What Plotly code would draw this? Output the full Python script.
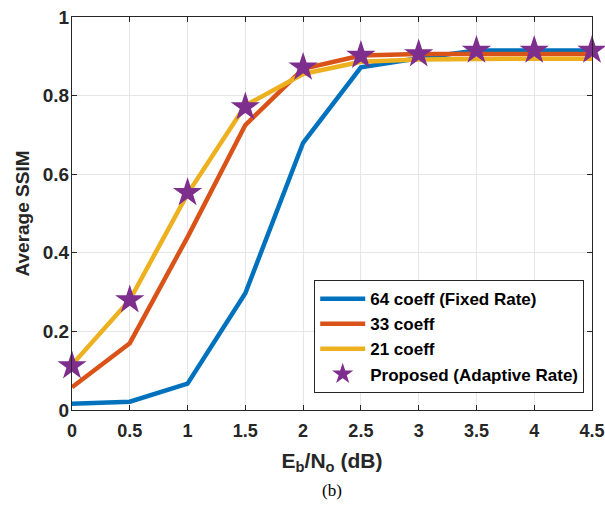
import plotly.graph_objects as go

x = [0, 0.5, 1, 1.5, 2, 2.5, 3, 3.5, 4, 4.5]
coeff64 = [0.016, 0.021, 0.067, 0.297, 0.680, 0.872, 0.895, 0.915, 0.915, 0.915]
coeff33 = [0.058, 0.170, 0.440, 0.725, 0.868, 0.902, 0.906, 0.906, 0.906, 0.906]
coeff21 = [0.115, 0.280, 0.550, 0.775, 0.855, 0.886, 0.892, 0.894, 0.894, 0.894]
proposed = [0.112, 0.280, 0.553, 0.771, 0.872, 0.902, 0.906, 0.915, 0.915, 0.915]

xticks = [0, 0.5, 1, 1.5, 2, 2.5, 3, 3.5, 4, 4.5]
xticklabels = ["0", "0.5", "1", "1.5", "2", "2.5", "3", "3.5", "4", "4.5"]
yticks = [0, 0.2, 0.4, 0.6, 0.8, 1]
yticklabels = ["0", "0.2", "0.4", "0.6", "0.8", "1"]

fig = go.Figure()
fig.add_trace(go.Scatter(x=x, y=coeff64, mode="lines", name="64 coeff (Fixed Rate)",
                         line=dict(color="#0072BD", width=4.5)))
fig.add_trace(go.Scatter(x=x, y=coeff33, mode="lines", name="33 coeff",
                         line=dict(color="#D95319", width=4.5)))
fig.add_trace(go.Scatter(x=x, y=coeff21, mode="lines", name="21 coeff",
                         line=dict(color="#EDB120", width=4.5)))
fig.add_trace(go.Scatter(x=x, y=proposed, mode="markers", name="Proposed (Adaptive Rate)",
                         marker=dict(symbol="star", size=22, color="#7E2F8E",
                                     line=dict(width=0)),
                         cliponaxis=False))

fig.update_layout(
    width=605, height=506,
    margin=dict(l=72, r=13, t=17, b=96, autoexpand=False),
    paper_bgcolor="white", plot_bgcolor="white",
    font=dict(family="Liberation Sans, Arial", color="#262626"),
    showlegend=True,
    legend=dict(x=0.985, y=0.043, xanchor="right", yanchor="bottom",
                bgcolor="white", bordercolor="#262626", borderwidth=1,
                font=dict(size=17, family="Liberation Sans, Arial", color="#000000", weight="bold"),
                tracegroupgap=0, itemwidth=45),
)
fig.update_xaxes(range=[0, 4.5], tickmode="array", tickvals=xticks, ticktext=xticklabels,
                 automargin=False,
                 showgrid=True, gridcolor="#E6E6E6", gridwidth=1,
                 showline=True, linecolor="#262626", linewidth=1, mirror="ticks",
                 ticks="inside", ticklen=5, tickcolor="#262626",
                 tickfont=dict(size=18, color="#262626", weight="bold"),
                 ticklabelstandoff=4,
                 zeroline=False,
                 title=dict(text="E<sub>b</sub>/N<sub>o</sub> (dB)", standoff=13,
                            font=dict(size=21, color="#262626", weight="bold")))
fig.update_yaxes(range=[0, 1], tickmode="array", tickvals=yticks, ticktext=yticklabels,
                 automargin=False,
                 showgrid=True, gridcolor="#E6E6E6", gridwidth=1,
                 showline=True, linecolor="#262626", linewidth=1, mirror="ticks",
                 ticks="inside", ticklen=5, tickcolor="#262626",
                 tickfont=dict(size=19, color="#262626", weight="bold"),
                 ticklabelstandoff=-2,
                 zeroline=False,
                 title=dict(text="Average SSIM", standoff=8,
                            font=dict(size=19, color="#262626", weight="bold")))
fig.add_annotation(text="(b)", x=0.5, y=-0.204, xref="paper", yref="paper",
                   showarrow=False, yanchor="middle",
                   font=dict(family="Liberation Serif, Times New Roman", size=17, color="#000000"))
fig.write_html("out.html", config={"displayModeBar": False},
               post_script="document.body.style.margin='0';")
